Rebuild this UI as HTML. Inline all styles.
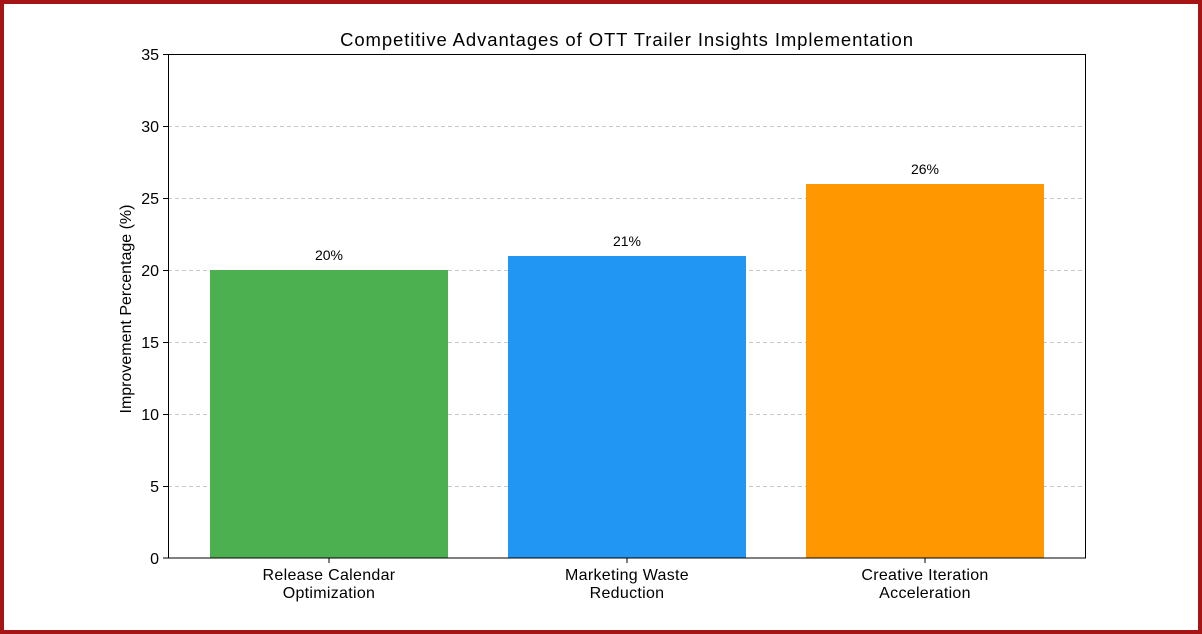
<!DOCTYPE html>
<html><head><style>
html,body{margin:0;padding:0;}
body{width:1202px;height:634px;overflow:hidden;background:#fff;}
.f{position:absolute;left:0;top:0;width:1194px;height:626px;border:4px solid #a51515;}
svg{position:absolute;left:0;top:0;}
text{font-family:"Liberation Sans",sans-serif;fill:#000;}
</style></head><body>
<div class="f"></div>
<svg width="1202" height="634">
<g stroke="#c8c8c8" stroke-dasharray="4,3" stroke-width="1">
<line x1="168" x2="1086" y1="486.5" y2="486.5"/>
<line x1="168" x2="1086" y1="414.5" y2="414.5"/>
<line x1="168" x2="1086" y1="342.5" y2="342.5"/>
<line x1="168" x2="1086" y1="270.5" y2="270.5"/>
<line x1="168" x2="1086" y1="198.5" y2="198.5"/>
<line x1="168" x2="1086" y1="126.5" y2="126.5"/>
</g>
<rect x="210" y="270" width="238" height="288" fill="#4caf50"/>
<rect x="508" y="256" width="238" height="302" fill="#2196f3"/>
<rect x="806" y="184" width="238" height="374" fill="#ff9800"/>
<rect x="168.5" y="54.5" width="917" height="503.5" fill="none" stroke="#000" stroke-width="1"/>
<g stroke="#000">
<line x1="163" x2="168" y1="558" y2="558"/><line x1="163" x2="168" y1="486.5" y2="486.5"/>
<line x1="163" x2="168" y1="414.5" y2="414.5"/><line x1="163" x2="168" y1="342.5" y2="342.5"/>
<line x1="163" x2="168" y1="270.5" y2="270.5"/><line x1="163" x2="168" y1="198.5" y2="198.5"/>
<line x1="163" x2="168" y1="126.5" y2="126.5"/><line x1="163" x2="168" y1="54.5" y2="54.5"/>
<line x1="329" x2="329" y1="558" y2="563"/><line x1="627" x2="627" y1="558" y2="563"/><line x1="925" x2="925" y1="558" y2="563"/>
</g>
<g font-size="16" text-anchor="end">
<text x="159" y="564">0</text><text x="159" y="492">5</text><text x="159" y="420">10</text>
<text x="159" y="348">15</text><text x="159" y="276">20</text><text x="159" y="204">25</text>
<text x="159" y="132">30</text><text x="159" y="60">35</text>
</g>
<g font-size="16" text-anchor="middle" letter-spacing="0.3">
<text x="329" y="580">Release Calendar</text><text x="329" y="598">Optimization</text>
<text x="627" y="580">Marketing Waste</text><text x="627" y="598">Reduction</text>
<text x="925" y="580">Creative Iteration</text><text x="925" y="598">Acceleration</text>
</g>
<g font-size="14" text-anchor="middle">
<text x="329" y="260">20%</text><text x="627" y="246">21%</text><text x="925" y="174">26%</text>
</g>
<text x="627" y="46" font-size="18.5" text-anchor="middle" letter-spacing="0.9">Competitive Advantages of OTT Trailer Insights Implementation</text>
<text transform="translate(131,309) rotate(-90)" font-size="16" text-anchor="middle">Improvement Percentage (%)</text>
</svg>
</body></html>
